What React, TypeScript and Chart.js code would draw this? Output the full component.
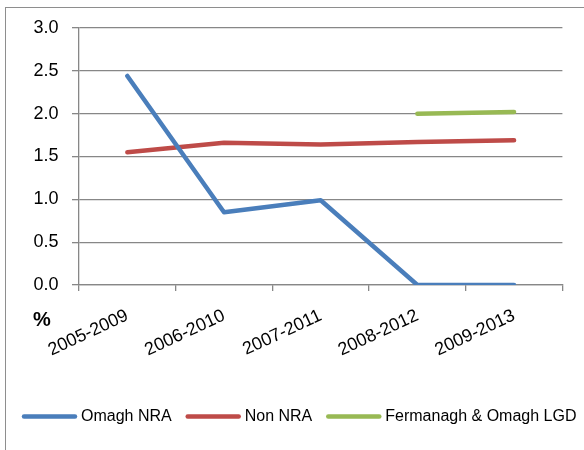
import React, { useEffect, useRef } from "react";
import { Chart, registerables } from "chart.js";

Chart.register(...registerables);

const categories = ["2005-2009", "2006-2010", "2007-2011", "2008-2012", "2009-2013"];
const omaghNRA = [2.44, 0.85, 0.99, 0, 0];
const nonNRA = [1.55, 1.66, 1.64, 1.67, 1.69];
const fermanaghOmagh: (number | null)[] = [null, null, null, 2.0, 2.02];
const seriesNames = ["Omagh NRA", "Non NRA", "Fermanagh & Omagh LGD"];
const seriesColors = ["#4a7ebb", "#be4b48", "#98b954"];
const yMin = 0;
const yMax = 3;
const yStep = 0.5;
const yTitle = "%";

const FONT = "'Liberation Sans', Arial, sans-serif";
const GRID = "#878787";

const decorPlugin = {
  id: "decor",
  beforeDraw(chart: any) {
    const ctx = chart.ctx;
    ctx.save();
    ctx.strokeStyle = "#8e8e8e";
    ctx.lineWidth = 1;
    ctx.strokeRect(5.5, 7.5, 800, 800);
    ctx.restore();
  },
  afterDraw(chart: any) {
    const ctx = chart.ctx;
    ctx.save();
    ctx.fillStyle = "#000";
    ctx.font = `bold 20px ${FONT}`;
    ctx.textAlign = "center";
    ctx.textBaseline = "middle";
    ctx.fillText(yTitle, 42, 320);
    ctx.font = `16px ${FONT}`;
    ctx.textAlign = "left";
    let x = 22;
    const y = 416.5;
    chart.data.datasets.forEach((ds: any) => {
      ctx.strokeStyle = ds.borderColor;
      ctx.lineWidth = 4.5;
      ctx.lineCap = "round";
      ctx.beginPath();
      ctx.moveTo(x + 2, y);
      ctx.lineTo(x + 53, y);
      ctx.stroke();
      x += 59;
      ctx.fillText(ds.label, x, y);
      x += ctx.measureText(ds.label).width + 14;
    });
    ctx.restore();
  },
};

export default function App() {
  const ref = useRef<HTMLCanvasElement | null>(null);
  useEffect(() => {
    if (!ref.current) return;
    const series = [omaghNRA, nonNRA, fermanaghOmagh];
    const chart = new Chart(ref.current, {
      type: "line",
      data: {
        labels: categories,
        datasets: series.map((d, i) => ({
          label: seriesNames[i],
          data: d,
          borderColor: seriesColors[i],
          backgroundColor: seriesColors[i],
          borderWidth: 4.5,
          pointRadius: 0,
          pointHoverRadius: 0,
          tension: 0,
          borderCapStyle: "round",
          borderJoinStyle: "round",
          fill: false,
        })),
      },
      options: {
        animation: false,
        responsive: false,
        layout: { padding: { top: 28, right: 21.6, left: 0, bottom: 0 } },
        plugins: { legend: { display: false }, tooltip: { enabled: false } },
        scales: {
          x: {
            offset: true,
            grid: {
              offset: true,
              drawOnChartArea: false,
              drawTicks: true,
              tickLength: 6,
              color: GRID,
              lineWidth: 1.3,
            },
            border: { display: true, color: GRID, width: 1.3 },
            ticks: {
              autoSkip: false,
              minRotation: 25,
              maxRotation: 25,
              padding: 14,
              color: "#000",
              font: { family: FONT, size: 18 },
            },
            afterFit: (s: any) => {
              s.height = 165;
            },
          },
          y: {
            min: yMin,
            max: yMax,
            ticks: {
              stepSize: yStep,
              padding: 13.5,
              color: "#000",
              font: { family: FONT, size: 18 },
              callback: (v: any) => Number(v).toFixed(1),
            },
            grid: { color: GRID, lineWidth: 1.3, tickLength: 7 },
            border: { display: true, color: GRID, width: 1.3 },
            afterFit: (s: any) => {
              s.width = 79;
            },
          },
        },
      },
      plugins: [decorPlugin],
    });
    return () => chart.destroy();
  }, []);
  return (
    <div style={{ position: "absolute", left: 0, top: 0, width: 584, height: 450, overflow: "hidden", background: "#fff" }}>
      <canvas ref={ref} width={584} height={450} style={{ width: 584, height: 450, display: "block" }} />
    </div>
  );
}
